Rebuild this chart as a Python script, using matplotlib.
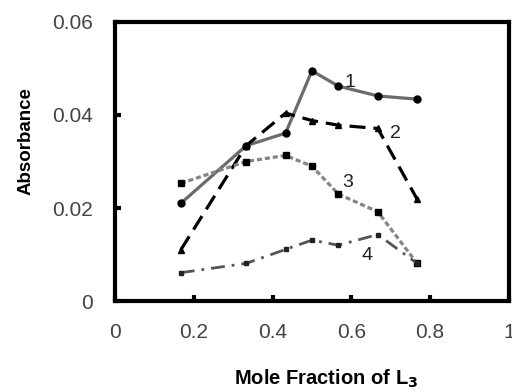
import numpy as np
import matplotlib
matplotlib.use('Agg')
import matplotlib.pyplot as plt

plt.rcParams['font.family'] = ['Liberation Sans', 'DejaVu Sans']

# mole fraction of L3
x = [0.167, 0.333, 0.433, 0.5, 0.567, 0.667, 0.767]

# absorbance for the four curves
abs_1 = [0.021, 0.0334, 0.0361, 0.0495, 0.0462, 0.0441, 0.0434]
abs_2 = [0.011, 0.0334, 0.0404, 0.0388, 0.0378, 0.0371, 0.0219]
abs_3 = [0.0253, 0.0300, 0.0313, 0.0290, 0.0230, 0.0192, 0.0081]
abs_4 = [0.0061, 0.0081, 0.0111, 0.0131, 0.0120, 0.0143, 0.0081]

curve_names = ['1', '2', '3', '4']
name_pos = [(0.596, 0.0470), (0.711, 0.0360), (0.591, 0.0254), (0.639, 0.0098)]

xticks = [0, 0.2, 0.4, 0.6, 0.8, 1]
xticklabels = ['0', '0.2', '0.4', '0.6', '0.8', '1']
yticks = [0, 0.02, 0.04, 0.06]
yticklabels = ['0', '0.02', '0.04', '0.06']

fig = plt.figure(figsize=(5.12, 3.92), dpi=100)
ax = fig.add_axes([0.2246, 0.232, 0.7694, 0.712])

ax.plot(x, abs_1, color='#6b6b6b', lw=2.3, ls='-', marker='o', ms=5,
        mfc='black', mec='black')
ax.plot(x, abs_2, color='black', lw=2.3, ls=(0, (5, 2.5)), marker='^', ms=4.5,
        mfc='black', mec='black')
ax.plot(x, abs_3, color='#858585', lw=2.3, ls=(0, (1.6, 0.9)), marker='s', ms=4.5,
        mfc='black', mec='black')
ax.plot(x, abs_4, color='#555555', lw=2.0, ls=(0, (5, 2.5, 1, 2.5)), marker='s', ms=3,
        mfc='#222222', mec='#222222')

for name, (px, py) in zip(curve_names, name_pos):
    ax.text(px, py, name, fontsize=14, color='#222222', ha='center', va='center')

ax.set_xlim(0, 1)
ax.set_ylim(0, 0.06)
ax.set_xticks(xticks)
ax.set_xticklabels(xticklabels)
ax.set_yticks(yticks)
ax.set_yticklabels(yticklabels)

for s in ax.spines.values():
    s.set_linewidth(3)
ax.tick_params(direction='in', length=4, width=3, labelsize=15,
               labelcolor='#444444', pad=16)

ax.set_xlabel('Mole Fraction of L$_\\mathbf{3}$', fontsize=14.5, fontweight='bold')
ax.xaxis.set_label_coords(0.535, -0.24)
ax.xaxis.label.set_va('top')
ax.set_ylabel('Absorbance', fontsize=13.5, fontweight='bold')
ax.yaxis.set_label_coords(-0.205, 0.573)

fig.savefig('out.png', dpi=100)
